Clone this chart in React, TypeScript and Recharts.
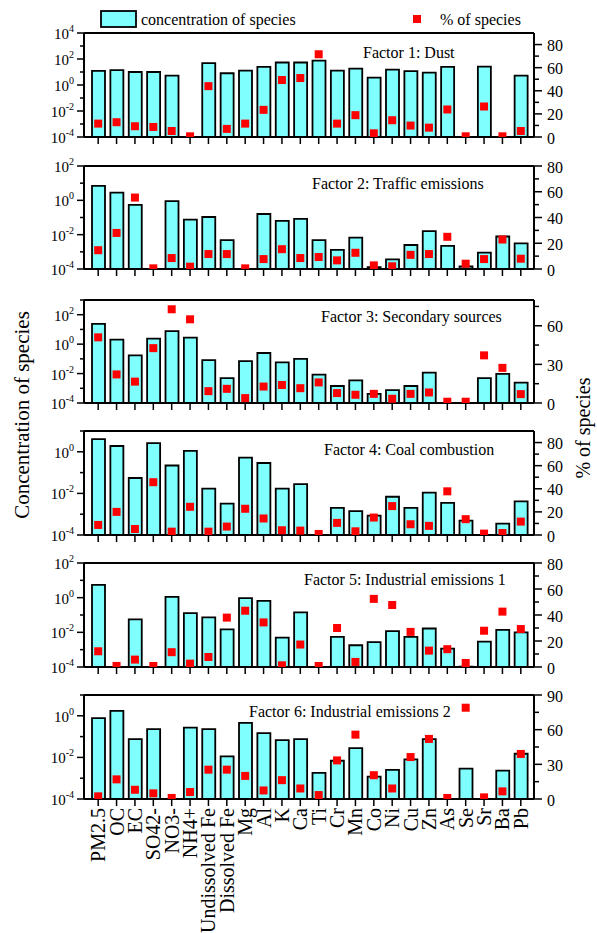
import { Bar, ComposedChart, Line, ReferenceLine, XAxis, YAxis } from "recharts";

const categories = [
  "PM2.5", "OC", "EC", "SO42-", "NO3-", "NH4+", "Undissolved Fe", "Dissolved Fe",
  "Mg", "Al", "K", "Ca", "Ti", "Cr", "Mn", "Co", "Ni", "Cu", "Zn", "As", "Se", "Sr", "Ba", "Pb"
];

// concentration (log axis) and % of species (linear axis), one pair per factor
const dustConc = [12, 14, 10, 10, 5.2, null, 48, 8, 12.6, 24.5, 54, 54, 76, 12.6, 18, 3.7, 15.5, 11.5, 9, 24.5, null, 26, null, 5.2];
const dustPct = [11.6, 12.8, 9.3, 8.7, 5.2, 0.6, 44, 7, 11.6, 23.5, 49.3, 51, 71.6, 11.6, 18.9, 3.2, 14.5, 9.9, 8.1, 23.8, 0.6, 26.4, 0.6, 5.2];

const trafficConc = [7, 2.8, 0.54, null, 0.9, 0.076, 0.107, 0.0048, null, 0.16, 0.063, 0.083, 0.0048, 0.0013, 0.0068, 0.00013, 0.00036, 0.0025, 0.016, 0.0022, 0.00014, 0.00089, 0.0078, 0.0031];
const trafficPct = [14.6, 28, 55.5, 0.5, 8.5, 1.8, 11.6, 11.6, 0.5, 7.7, 15.4, 8.5, 9.3, 6.7, 12.6, 2.8, 2.1, 11, 11.6, 25, 4.1, 7.7, 22.9, 8];

const secondaryConc = [24, 2.0, 0.17, 2.4, 7.7, 2.8, 0.081, 0.0049, 0.07, 0.25, 0.057, 0.1, 0.0086, 0.00143, 0.0034, 0.00042, 0.00074, 0.00143, 0.0117, null, null, 0.0049, 0.0096, 0.0024];
const secondaryPct = [51, 22.2, 16.6, 42.6, 72.8, 65, 9.2, 11, 3.8, 12.8, 14, 11.5, 16, 7.7, 6.4, 7.1, 3.3, 7.1, 8.2, 1, 1, 37, 27.3, 6.9];

const coalConc = [4.1, 1.9, 0.055, 2.6, 0.22, 1.1, 0.017, 0.0032, 0.52, 0.29, 0.017, 0.028, null, 0.002, 0.0014, 0.00086, 0.0069, 0.002, 0.011, 0.0035, 0.00049, null, 0.00035, 0.0041];
const coalPct = [8.7, 20, 5.2, 45.7, 2.9, 24.4, 2.9, 7.3, 22.7, 14.3, 4.1, 3.8, 0.9, 10.5, 3.2, 15.1, 25, 9.3, 7.9, 37.8, 13.7, 1.2, 1.7, 11.6];

const industrial1Conc = [5.5, null, 0.056, null, 1.1, 0.13, 0.072, 0.015, 0.95, 0.65, 0.005, 0.14, null, 0.0055, 0.0018, 0.0027, 0.0118, 0.0055, 0.0166, 0.00115, 0.000105, 0.0029, 0.014, 0.01];
const industrial1Pct = [12.1, 0.8, 5.7, 0.8, 11.4, 2.6, 7.7, 38, 43.3, 34.3, 1.3, 17.3, 0.8, 30, 3.9, 52.4, 47.7, 27, 12.6, 13.7, 3.1, 27.9, 42.6, 29.2];

const industrial2Conc = [0.78, 1.74, 0.076, 0.23, null, 0.27, 0.23, 0.0113, 0.46, 0.147, 0.068, 0.076, 0.0018, 0.0069, 0.028, 0.00118, 0.0025, 0.008, 0.076, null, 0.0029, null, 0.0023, 0.015];
const industrial2Pct = [2.3, 17, 8, 4.9, 0.9, 6, 25.4, 25.4, 20, 7.4, 16.3, 9.1, 3.4, 33.4, 55.7, 20.6, 9.1, 36.3, 52, 0.9, 79, 1.4, 6.6, 39];

const titles = [
  "Factor 1: Dust",
  "Factor 2: Traffic emissions",
  "Factor 3: Secondary sources",
  "Factor 4: Coal combustion",
  "Factor 5: Industrial emissions 1",
  "Factor 6: Industrial emissions 2"
];

const FONT = "'Liberation Serif', 'Times New Roman', serif";
const W = 597;
const AXIS_L = 84;
const AXIS_R = 534;
const MT = 16;
const CYAN = "#80ffff";

const panels = [
  { conc: dustConc, pct: dustPct, top: 33, bottom: 137, logMax: 4, pctMax: 90, pctMajor: [0, 20, 40, 60, 80], pctMinor: [10, 30, 50, 70], tx: 363, ty: 52 },
  { conc: trafficConc, pct: trafficPct, top: 166, bottom: 269, logMax: 2, pctMax: 80, pctMajor: [0, 20, 40, 60, 80], pctMinor: [10, 30, 50, 70], tx: 312, ty: 183 },
  { conc: secondaryConc, pct: secondaryPct, top: 300, bottom: 403, logMax: 3, pctMax: 80, pctMajor: [0, 30, 60], pctMinor: [15, 45, 75], tx: 321, ty: 316 },
  { conc: coalConc, pct: coalPct, top: 431, bottom: 535, logMax: 1, pctMax: 90, pctMajor: [0, 20, 40, 60, 80], pctMinor: [10, 30, 50, 70], tx: 324, ty: 449 },
  { conc: industrial1Conc, pct: industrial1Pct, top: 563, bottom: 667, logMax: 2, pctMax: 80, pctMajor: [0, 20, 40, 60, 80], pctMinor: [10, 30, 50, 70], tx: 304, ty: 579 },
  { conc: industrial2Conc, pct: industrial2Pct, top: 695, bottom: 799, logMax: 1, pctMax: 90, pctMajor: [0, 30, 60, 90], pctMinor: [15, 45, 75], tx: 249, ty: 711 }
];

const LeftTick = ({ y, payload }: any) => {
  const exp = Math.round(Math.log10(payload.value));
  const major = exp % 2 === 0;
  return (
    <g>
      <line x1={AXIS_L - (major ? 7 : 4)} x2={AXIS_L} y1={y} y2={y} stroke="#000" strokeWidth={1.5} />
      {major && (
        <text x={AXIS_L - 10} y={y + 1} textAnchor="end" dominantBaseline="central" fontFamily={FONT} fontSize={15} fill="#000">
          10<tspan dy={-6} fontSize={10}>{exp}</tspan>
        </text>
      )}
    </g>
  );
};

const makeRightTick = (majors: number[]) => ({ y, payload }: any) => {
  const major = majors.includes(payload.value);
  return (
    <g>
      <line x1={AXIS_R} x2={AXIS_R + (major ? 8 : 5)} y1={y} y2={y} stroke="#000" strokeWidth={1.5} />
      {major && (
        <text x={AXIS_R + 13} y={y + 1} textAnchor="start" dominantBaseline="central" fontFamily={FONT} fontSize={16} fill="#000">
          {payload.value}
        </text>
      )}
    </g>
  );
};

const EmptyTick = () => <g />;

const makeCategoryTick = (labelY: number) => ({ x, payload }: any) => (
  <text
    x={x}
    y={labelY}
    transform={`rotate(-90, ${x}, ${labelY})`}
    textAnchor="end"
    dominantBaseline="central"
    fontFamily={FONT}
    fontSize={20}
    fill="#000"
  >
    {payload.value}
  </text>
);

const squareDot = (props: any) => {
  const { cx, cy, index } = props;
  if (cx == null || cy == null) return <g key={`sq-${index}`} />;
  return <rect key={`sq-${index}`} x={cx - 4} y={cy - 4} width={8} height={8} fill="#ff0000" />;
};

const Panel = ({ index }: { index: number }) => {
  const p = panels[index];
  const last = index === panels.length - 1;
  const plotH = p.bottom - p.top;
  const xh = last ? 134 : 10;
  const data = categories.map((name, i) => ({ name, conc: p.conc[i], pct: p.pct[i] }));
  const logTicks: number[] = [];
  for (let e = -4; e <= p.logMax; e++) logTicks.push(Math.pow(10, e));
  const pctTicks = [...p.pctMajor, ...p.pctMinor].sort((a, b) => a - b);
  const logTop = Math.pow(10, p.logMax);

  return (
    <div style={{ position: "absolute", left: 0, top: p.top - MT }}>
      <ComposedChart width={W} height={MT + plotH + xh} data={data} margin={{ top: MT, right: 0, bottom: 0, left: 0 }}>
        <XAxis
          dataKey="name"
          interval={0}
          height={xh}
          padding={{ left: 5, right: 4 }}
          tickSize={7}
          tickLine={{ stroke: "#000", strokeWidth: 1.5 }}
          axisLine={{ stroke: "#000", strokeWidth: 2 }}
          tick={last ? makeCategoryTick(MT + plotH + 9) : EmptyTick}
        />
        <YAxis
          yAxisId="left"
          scale="log"
          domain={[1e-4, logTop]}
          allowDataOverflow
          ticks={logTicks}
          interval={0}
          width={AXIS_L}
          tickLine={false}
          axisLine={{ stroke: "#000", strokeWidth: 2 }}
          tick={LeftTick}
        />
        <YAxis
          yAxisId="right"
          orientation="right"
          domain={[0, p.pctMax]}
          allowDataOverflow
          ticks={pctTicks}
          interval={0}
          width={W - AXIS_R}
          tickLine={false}
          axisLine={{ stroke: "#000", strokeWidth: 2 }}
          tick={makeRightTick(p.pctMajor)}
        />
        <ReferenceLine yAxisId="left" y={logTop} stroke="#000" strokeWidth={2} />
        <Bar
          yAxisId="left"
          dataKey="conc"
          barSize={13}
          fill={CYAN}
          stroke="#000"
          strokeWidth={1.8}
          isAnimationActive={false}
        />
        <Line
          yAxisId="right"
          dataKey="pct"
          stroke="none"
          dot={squareDot}
          activeDot={false}
          isAnimationActive={false}
        />
      </ComposedChart>
    </div>
  );
};

export default function App() {
  return (
    <div style={{ position: "absolute", left: 0, top: 0, width: W, height: 933, background: "#fff" }}>
      {panels.map((_, i) => (
        <Panel key={titles[i]} index={i} />
      ))}
      <svg width={W} height={933} style={{ position: "absolute", left: 0, top: 0, pointerEvents: "none" }}>
        <rect x={101} y={11} width={35} height={16} fill={CYAN} stroke="#000" strokeWidth={1.8} />
        <text x={141} y={19} dominantBaseline="central" fontFamily={FONT} fontSize={16}>
          concentration of species
        </text>
        <rect x={413} y={15} width={8} height={8} fill="#ff0000" />
        <text x={440} y={19} dominantBaseline="central" fontFamily={FONT} fontSize={16}>
          % of species
        </text>
        {panels.map((p, i) => (
          <text key={titles[i]} x={p.tx} y={p.ty} dominantBaseline="central" fontFamily={FONT} fontSize={16}>
            {titles[i]}
          </text>
        ))}
        <text
          x={22}
          y={415}
          transform="rotate(-90, 22, 415)"
          textAnchor="middle"
          dominantBaseline="central"
          fontFamily={FONT}
          fontSize={21}
        >
          Concentration of species
        </text>
        <text
          x={583}
          y={428}
          transform="rotate(-90, 583, 428)"
          textAnchor="middle"
          dominantBaseline="central"
          fontFamily={FONT}
          fontSize={20}
        >
          % of species
        </text>
      </svg>
    </div>
  );
}
